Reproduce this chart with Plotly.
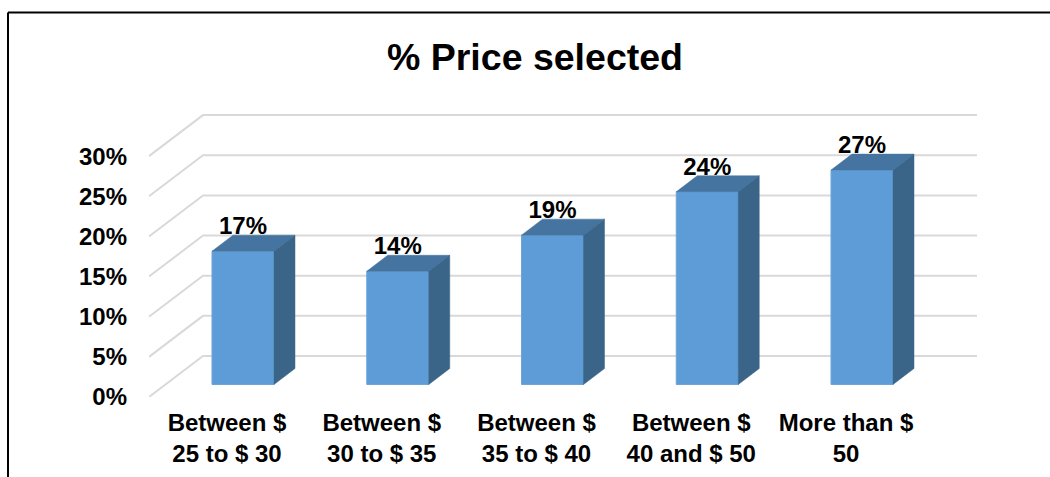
import plotly.graph_objects as go

categories = ["Between $<br>25 to $ 30", "Between $<br>30 to $ 35", "Between $<br>35 to $ 40",
              "Between $<br>40 and $ 50", "More than $<br>50"]
values = [0.166, 0.141, 0.186, 0.240, 0.267]
axis_ticks = [0, 0.05, 0.10, 0.15, 0.20, 0.25, 0.30]
title_text = "% Price selected"

W, H = 1050, 477
PLOT_L, PLOT_T, PLOT_B = 149, 100, 397
PITCH = 154.75          # px per category
FIRST = 243.0           # px of the first bar's centre
PER_UNIT = 803.0        # px per 100 %
BAR_ZERO = 384.5        # px of bar baseline

def xu(px):
    return (px - FIRST) / PITCH

x_range = [xu(PLOT_L), xu(W)]
y_range = [0, (PLOT_B - PLOT_T) / PER_UNIT]
y2_range = [-(PLOT_B - BAR_ZERO) / PER_UNIT, (BAR_ZERO - PLOT_T) / PER_UNIT]

BAR_W = 62 / PITCH
DX = 21 / PITCH
DY = 16 / PER_UNIT
WALL_DX = 54 / PITCH
WALL_DY = 41 / PER_UNIT
WALL_R = xu(977)
LABEL_SHIFT = 16 / PITCH
DL_OFFSET = 23 / PER_UNIT

FONT = "Liberation Sans"
fig = go.Figure()

for t in axis_ticks:
    fig.add_trace(go.Scatter(x=[x_range[0], x_range[0] + WALL_DX, WALL_R],
                             y=[t, t + WALL_DY, t + WALL_DY], mode="lines",
                             line=dict(color="#d9d9d9", width=2), yaxis="y", hoverinfo="skip"))

xs = list(range(len(values)))
fig.add_trace(go.Bar(x=xs, y=values, width=BAR_W, yaxis="y2",
                     marker=dict(color="#5d9cd6", line=dict(color="#6ba5da", width=1)), hoverinfo="skip"))
for x, v in zip(xs, values):
    r = x + BAR_W / 2
    l = x - BAR_W / 2
    fig.add_trace(go.Scatter(x=[l, r, r + DX, l + DX, l], y=[v, v, v + DY, v + DY, v],
                             mode="lines", fill="toself", fillcolor="#44749f",
                             line=dict(color="#44749f", width=0.5), yaxis="y2", hoverinfo="skip"))
    fig.add_trace(go.Scatter(x=[r, r + DX, r + DX, r, r], y=[0, DY, v + DY, v, 0],
                             mode="lines", fill="toself", fillcolor="#3b6588",
                             line=dict(color="#3b6588", width=0.5), yaxis="y2", hoverinfo="skip"))

fig.add_trace(go.Scatter(x=xs, y=[v + DL_OFFSET for v in values], mode="text",
                         text=[f"{v:.0%}" for v in values], textposition="middle center",
                         textfont=dict(family=FONT, size=24, color="black", weight=700),
                         yaxis="y2", hoverinfo="skip"))

def px_x(px):
    return (px - PLOT_L) / (W - PLOT_L)

def px_y(py):
    return (PLOT_B - py) / (PLOT_B - PLOT_T)

fig.add_shape(type="line", xref="paper", yref="paper", x0=px_x(8), x1=px_x(8), y0=px_y(12.5), y1=px_y(H),
              line=dict(color="black", width=2))
fig.add_shape(type="line", xref="paper", yref="paper", x0=px_x(8), x1=px_x(W), y0=px_y(12.5), y1=px_y(12.5),
              line=dict(color="black", width=2))

fig.update_layout(
    width=W, height=H, showlegend=False, autosize=False, hovermode=False,
    paper_bgcolor="white", plot_bgcolor="rgba(0,0,0,0)",
    margin=dict(l=PLOT_L, r=0, t=PLOT_T, b=H - PLOT_B, autoexpand=False),
    title=dict(text=title_text, x=535 / W, xref="container", xanchor="center",
               y=1 - 57 / H, yref="container", yanchor="middle",
               font=dict(family=FONT, size=37.5, color="black", weight=700)),
    xaxis=dict(range=x_range, tickmode="array", tickvals=[x - LABEL_SHIFT for x in xs], ticktext=categories,
               showgrid=False, zeroline=False, showline=False, ticks="", ticklabelstandoff=9,
               tickangle=0, tickfont=dict(family=FONT, size=24, color="black", weight=700)),
    yaxis=dict(range=y_range, tickmode="array", tickvals=axis_ticks, tickformat=".0%",
               showgrid=False, zeroline=False, showline=False, ticks="", ticklabelstandoff=21,
               tickfont=dict(family=FONT, size=24, color="black", weight=700)),
    yaxis2=dict(range=y2_range, overlaying="y", visible=False),
)
fig.write_html("out.html", config=dict(displayModeBar=False),
               post_script="document.body.style.margin='0';document.documentElement.style.overflow='hidden';")
